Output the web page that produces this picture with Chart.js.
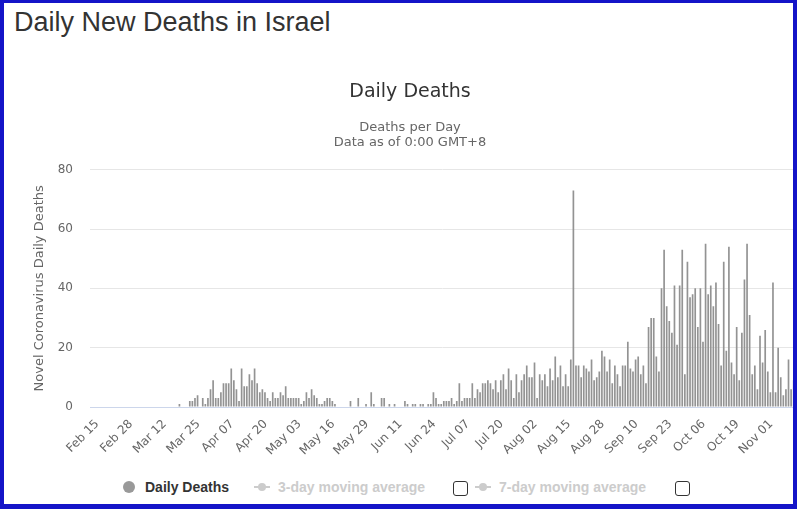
<!DOCTYPE html>
<html>
<head>
<meta charset="utf-8">
<title>Daily New Deaths in Israel</title>
<script src="https://cdn.jsdelivr.net/npm/chart.js@4.4.0/dist/chart.umd.min.js"></script>
<style>
  html, body { margin: 0; padding: 0; background: #fff; overflow: hidden; }
  body { width: 797px; height: 509px; position: relative; }
  #frame { position: absolute; left: 0; top: 0; width: 797px; height: 509px; box-sizing: border-box;
           border: 4px solid #1414c8; border-top-width: 3px; border-bottom-width: 5px; pointer-events: none; z-index: 5; }
  #pageTitle { position: absolute; left: 14px; top: 9px; font: 27px/27px "Liberation Sans", Arial, sans-serif; color: #333; }
  #wrap { position: absolute; left: 0; top: 60px; width: 795px; height: 395px; }
  .lg { position: absolute; top: 479px; font: bold 14px/16px "Liberation Sans", Arial, sans-serif; white-space: nowrap; }
  .dot { position: absolute; border-radius: 50%; }
  .line { position: absolute; height: 2px; }
  .box { position: absolute; width: 13px; height: 13px; border: 1px solid #333; border-radius: 3px; background: #fff; }
</style>
</head>
<body>
<div id="pageTitle">Daily New Deaths in Israel</div>
<div id="wrap"><canvas id="deathChart" width="795" height="395"></canvas></div>

<!-- legend, drawn the way the original page shows it -->
<div class="dot" style="left:123px; top:481px; width:12px; height:12px; background:#999;"></div>
<div class="lg" style="left:145px; color:#333;">Daily Deaths</div>
<div class="line" style="left:254px; top:486px; width:16px; background:#ccc;"></div>
<div class="dot" style="left:258px; top:483px; width:8px; height:8px; background:#ccc;"></div>
<div class="lg" style="left:278px; color:#ccc;">3-day moving average</div>
<div class="box" style="left:453px; top:481px;"></div>
<div class="line" style="left:475px; top:486px; width:16px; background:#ccc;"></div>
<div class="dot" style="left:479px; top:483px; width:8px; height:8px; background:#ccc;"></div>
<div class="lg" style="left:499px; color:#ccc;">7-day moving average</div>
<div class="box" style="left:675px; top:481px;"></div>

<div id="frame"></div>

<script>
// daily deaths, one array per month (Feb 15 .. Nov 12, 2020)
const feb = [0,0,0,0,0,0,0,0,0,0,0,0,0,0,0];
const mar = [0,0,0,0,0,0,0,0,0,0,0,0,0,0,0,0,0,0,0,1,0,0,0,2,2,3,4,0,3,1,3];
const apr = [6,9,3,3,5,8,8,8,13,9,6,2,13,7,7,11,9,13,8,5,6,5,3,2,5,3,3,5,4,7];
const may = [3,3,3,3,3,1,2,5,3,6,4,3,1,1,2,3,3,2,1,0,0,0,0,0,2,0,0,3,0,0,1];
const jun = [0,5,1,0,0,3,3,0,1,0,1,0,0,0,2,1,0,1,1,0,1,1,0,1,1,5,3,1,1,2];
const jul = [2,2,3,1,2,8,2,3,3,3,8,3,6,5,8,8,9,8,6,9,5,9,11,6,13,9,3,11,5,9,11];
const aug = [14,10,10,15,3,11,9,11,7,13,9,17,10,14,7,11,7,16,73,14,14,10,14,13,12,16,9,10,12,19,17];
const sep = [12,16,8,14,11,7,14,14,22,13,12,16,17,11,14,8,27,30,30,17,12,40,53,34,29,25,41,21,41,53];
const oct = [11,49,37,38,40,27,40,22,55,38,41,34,42,28,14,49,19,54,15,11,27,9,25,43,55,31,11,14,6,24,15];
const nov = [26,12,5,42,5,20,10,4,6,16,6,9];

const tickLabels = ['Feb 15','Feb 28','Mar 12','Mar 25','Apr 07','Apr 20','May 03','May 16','May 29',
                    'Jun 11','Jun 24','Jul 07','Jul 20','Aug 02','Aug 15','Aug 28','Sep 10','Sep 23',
                    'Oct 06','Oct 19','Nov 01'];
const monthNames = ['Jan','Feb','Mar','Apr','May','Jun','Jul','Aug','Sep','Oct','Nov','Dec'];

const deaths = [].concat(feb, mar, apr, may, jun, jul, aug, sep, oct, nov);
const days = deaths.map((v, i) => {
    const d = new Date(2020, 1, 15 + i);
    return monthNames[d.getMonth()] + ' ' + String(d.getDate()).padStart(2, '0');
});

const font = 'DejaVu Sans';

new Chart(document.getElementById('deathChart'), {
    type: 'bar',
    data: {
        labels: days,
        datasets: [{
            label: 'Daily Deaths',
            data: deaths,
            backgroundColor: '#939393',
            borderWidth: 0,
            barPercentage: 0.65,
            categoryPercentage: 1.0
        }]
    },
    options: {
        responsive: false,
        animation: false,
        devicePixelRatio: 1,
        layout: { padding: { left: 25, right: 0, top: 0, bottom: 0 } },
        plugins: {
            legend: { display: false },
            tooltip: { enabled: false },
            title: {
                display: true,
                text: 'Daily Deaths',
                color: '#333333',
                font: { family: font, size: 19, weight: 'normal' },
                padding: { top: 21, bottom: 16 }
            },
            subtitle: {
                display: true,
                text: ['Deaths per Day', 'Data as of 0:00 GMT+8'],
                color: '#666666',
                font: { family: font, size: 13, lineHeight: 1.15 },
                padding: { top: 0, bottom: 20 }
            }
        },
        scales: {
            x: {
                offset: true,
                grid: { display: false },
                border: { color: '#ccd6eb' },
                ticks: {
                    autoSkip: false,
                    minRotation: 45,
                    maxRotation: 45,
                    padding: 2,
                    labelOffset: 6,
                    color: '#666666',
                    font: { family: font, size: 12 },
                    callback: function (value, index) {
                        const lbl = this.getLabelForValue(value);
                        return tickLabels.includes(lbl) ? lbl : null;
                    }
                },
                afterFit: s => { s.height = 48; }
            },
            y: {
                min: 0,
                max: 80,
                ticks: { stepSize: 20, padding: 17, color: '#666666', font: { family: font, size: 12 } },
                grid: { color: '#e6e6e6', drawTicks: false },
                border: { display: false },
                title: {
                    display: true,
                    text: 'Novel Coronavirus Daily Deaths',
                    color: '#666666',
                    font: { family: font, size: 13 },
                    padding: { top: 7, bottom: 0 }
                },
                afterFit: s => { s.width = 65; }
            }
        }
    }
});
</script>
</body>
</html>
